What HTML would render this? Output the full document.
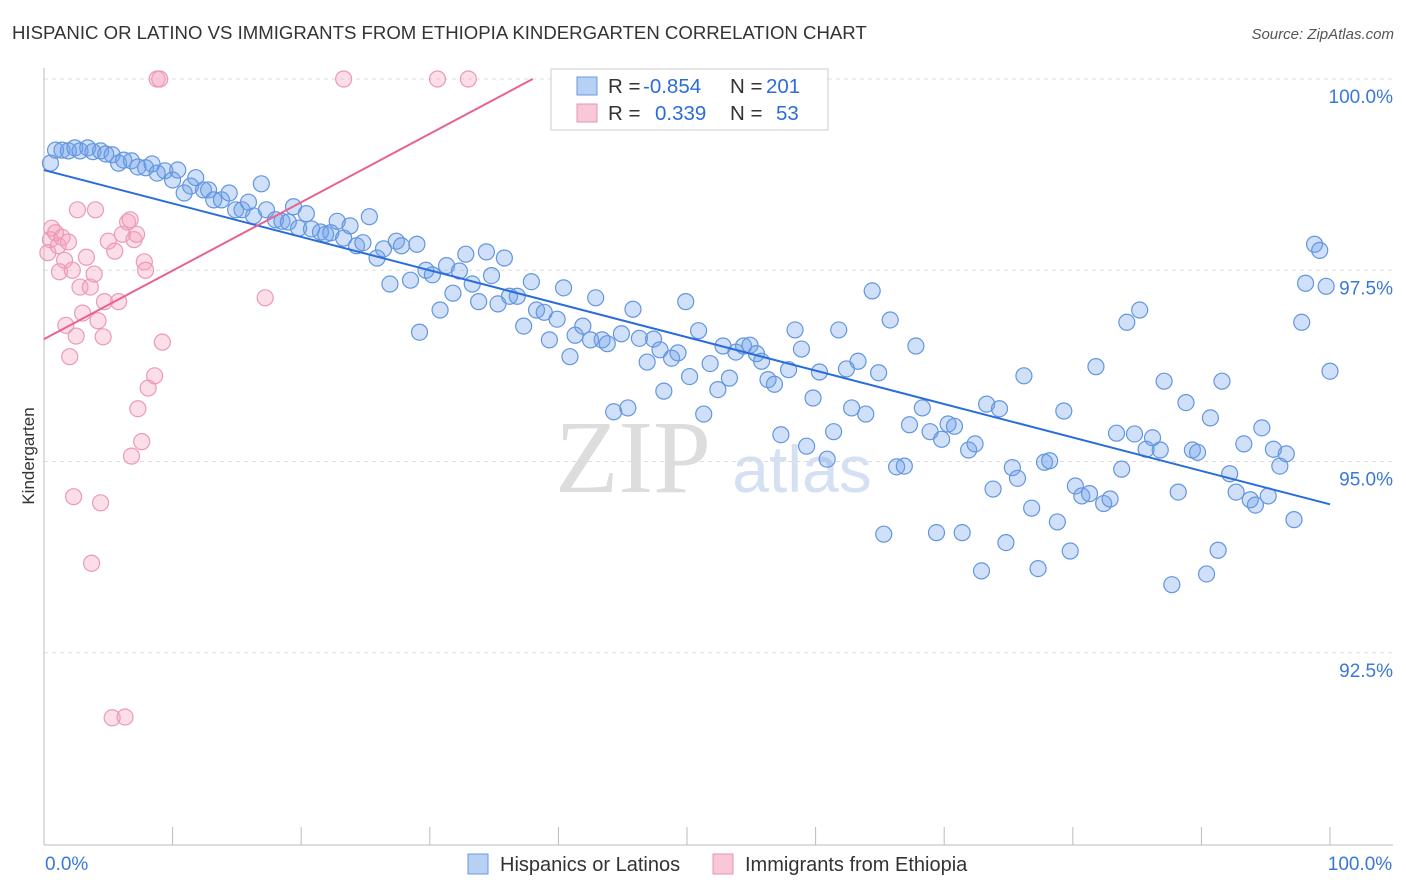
<!DOCTYPE html>
<html><head><meta charset="utf-8"><style>
body{margin:0;background:#fff;font-family:"Liberation Sans",sans-serif;}
svg{display:block}
</style></head><body>
<svg id="chart" width="1406" height="892">
<text x="12" y="39" font-size="18.6" fill="#333">HISPANIC OR LATINO VS IMMIGRANTS FROM ETHIOPIA KINDERGARTEN CORRELATION CHART</text>
<text x="1394" y="39" font-size="15" fill="#555" font-style="italic" text-anchor="end">Source: ZipAtlas.com</text>
<text x="34" y="456" font-size="17" fill="#333" text-anchor="middle" transform="rotate(-90 34 456)">Kindergarten</text>
<text x="633" y="492" font-size="104" fill="#ddd" font-family="Liberation Serif" text-anchor="middle">ZIP</text>
<text x="802" y="492" font-size="66" fill="#d5e0f2" text-anchor="middle">atlas</text>
<g id="grid"></g><g id="axes"></g><g id="pts"></g><g id="trend"></g>
<g>
<rect x="551" y="69" width="277" height="61" fill="#fff" stroke="#ccc"/>
<rect x="577" y="77" width="20" height="18" fill="#b8d0f5" stroke="#6a9ae0"/>
<rect x="577" y="104" width="20" height="18" fill="#f8c8d8" stroke="#e895b0"/>
<text font-size="20.5" fill="#333"><tspan x="608" y="93">R = </tspan><tspan x="643" y="93" fill="#2a6dd9">-0.854</tspan><tspan x="730" y="93">N = </tspan><tspan x="766" y="93" fill="#2a6dd9">201</tspan></text>
<text font-size="20.5" fill="#333"><tspan x="608" y="120">R = </tspan><tspan x="655" y="120" fill="#2a6dd9">0.339</tspan><tspan x="730" y="120">N = </tspan><tspan x="776" y="120" fill="#2a6dd9">53</tspan></text>
</g>
<g>
<rect x="468" y="854" width="20" height="20" fill="#b8d0f5" stroke="#6a9ae0"/>
<text x="500" y="871" font-size="20" fill="#333">Hispanics or Latinos</text>
<rect x="713" y="854" width="20" height="20" fill="#f8c8d8" stroke="#e895b0"/>
<text x="745" y="871" font-size="20" fill="#333">Immigrants from Ethiopia</text>
</g>
</svg>
<script>
const yTicks=[100,97.5,95,92.5];
const yTickLabels=["100.0%","97.5%","95.0%","92.5%"];
const xLabels=["0.0%","100.0%"];
const blueX=[0.9,0.5,1.4,1.9,2.4,2.8,3.4,3.8,4.4,4.8,5.3,5.8,6.2,6.8,7.3,7.9,8.4,8.8,9.4,10.0,10.4,10.9,11.4,11.8,12.4,12.8,13.2,13.8,14.4,14.9,15.4,15.9,16.3,16.9,17.3,18.0,18.5,19.0,19.4,19.8,20.4,20.8,21.5,21.9,22.3,22.8,23.3,23.8,24.3,24.8,25.3,25.9,26.4,26.9,27.4,27.8,28.5,29.0,29.2,29.7,30.2,30.8,31.3,31.8,32.3,32.8,33.3,33.8,34.4,34.8,35.3,35.8,36.2,36.8,37.3,37.9,38.3,38.9,39.3,39.9,40.4,40.9,41.3,41.9,42.5,42.9,43.4,43.8,44.3,44.9,45.4,45.8,46.3,46.9,47.4,47.9,48.2,48.8,49.3,49.9,50.2,50.9,51.3,51.8,52.4,52.8,53.3,53.8,54.4,54.9,55.4,55.8,56.3,56.8,57.3,57.9,58.4,58.9,59.3,59.8,60.3,60.9,61.4,61.8,62.4,62.8,63.3,63.9,64.4,64.9,65.3,65.8,66.3,66.9,67.3,67.8,68.3,68.9,69.4,69.8,70.3,70.8,71.4,71.9,72.4,72.9,73.3,73.8,74.3,74.8,75.3,75.7,76.2,76.8,77.3,77.8,78.2,78.8,79.3,79.8,80.2,80.7,81.3,81.8,82.4,82.9,83.4,83.8,84.2,84.8,85.2,85.7,86.2,86.8,87.1,87.7,88.2,88.8,89.3,89.7,90.4,90.7,91.3,91.6,92.2,92.7,93.3,93.8,94.2,94.7,95.2,95.6,96.1,96.6,97.2,97.8,98.1,98.8,99.2,99.7,100.0];
const blueY=[99.07,98.90,99.07,99.06,99.10,99.06,99.10,99.05,99.06,99.02,99.01,98.90,98.94,98.93,98.85,98.84,98.89,98.77,98.80,98.68,98.81,98.51,98.60,98.71,98.55,98.55,98.42,98.42,98.51,98.29,98.29,98.39,98.21,98.63,98.29,98.16,98.14,98.13,98.33,98.05,98.24,98.04,98.00,97.97,97.99,98.14,97.92,98.08,97.82,97.86,98.20,97.66,97.78,97.32,97.88,97.82,97.37,97.84,96.69,97.50,97.44,96.98,97.56,97.20,97.49,97.71,97.32,97.09,97.74,97.43,97.06,97.66,97.16,97.16,96.77,97.35,96.98,96.95,96.59,96.86,97.27,96.37,96.65,96.77,96.59,97.14,96.59,96.54,95.65,96.67,95.70,96.99,96.61,96.30,96.60,96.46,95.92,96.35,96.42,97.09,96.11,96.71,95.62,96.28,95.94,96.51,96.09,96.43,96.51,96.52,96.41,96.31,96.07,96.01,95.35,96.20,96.72,96.47,95.20,95.83,96.17,95.03,95.39,96.72,96.21,95.70,96.31,95.62,97.23,96.16,94.05,96.85,94.93,94.94,95.48,96.51,95.70,95.39,94.07,95.29,95.49,95.46,94.07,95.15,95.23,93.57,95.75,94.64,95.69,93.94,94.92,94.78,96.12,94.39,93.60,94.99,95.01,94.21,95.66,93.83,94.68,94.55,94.58,96.24,94.45,94.51,95.37,94.90,96.82,95.36,96.98,95.16,95.31,95.15,96.05,93.39,94.60,95.77,95.15,95.12,93.53,95.57,93.84,96.05,94.84,94.60,95.23,94.50,94.43,95.44,94.55,95.16,94.94,95.10,94.24,96.82,97.33,97.84,97.76,97.29,96.18];
const pinkX=[0.5,0.6,0.3,0.9,1.1,1.2,1.4,1.6,1.7,1.9,2.0,2.2,2.3,2.5,2.6,2.8,3.0,3.3,3.6,3.7,3.9,4.0,4.2,4.4,4.6,4.7,5.0,5.3,5.5,5.8,6.1,6.3,6.5,6.7,6.8,7.0,7.2,7.3,7.6,7.8,7.9,8.1,8.6,8.8,9.0,9.2,17.2,23.3,30.6,33.0];
const pinkY=[97.90,98.05,97.73,97.99,97.82,97.48,97.93,97.63,96.78,97.87,96.37,97.50,94.54,96.64,98.29,97.28,96.94,97.67,97.28,93.67,97.45,98.29,96.84,94.46,96.63,97.09,97.88,91.65,97.75,97.09,97.97,91.66,98.13,98.16,95.07,97.90,97.97,95.69,95.26,97.61,97.50,95.96,96.12,100,100,96.56,97.14,100,100,100];
const blueTrend=[98.81,94.44];
const pinkTrend=[96.6,100];
const pinkTrendEnd=38;

const NS="http://www.w3.org/2000/svg";
const X0=44,X1=1330,YT=79,PX=76.5;
const sx=v=>X0+(X1-X0)*v/100;
const sy=v=>YT+(100-v)*PX;
function mk(tag,attrs,parent){const e=document.createElementNS(NS,tag);for(const k in attrs)e.setAttribute(k,attrs[k]);parent.appendChild(e);return e;}
const grid=document.getElementById('grid'),axes=document.getElementById('axes'),pts=document.getElementById('pts'),trend=document.getElementById('trend');
yTicks.forEach((t,i)=>{
 const l=mk('line',{x1:X0,x2:1393,y1:sy(t),y2:sy(t),stroke:'#ddd','stroke-dasharray':'4 4'},grid);
 
 
 const tx=mk('text',{x:1393,y:sy(t)+24,'font-size':19,fill:'#3a78d8','text-anchor':'end'},axes);
 tx.textContent=yTickLabels[i];
 
 
});
const ax=mk('line',{x1:X0,x2:1393,y1:845,y2:845,stroke:'#bbb'},axes);


const ay=mk('line',{x1:X0,x2:X0,y1:68,y2:845,stroke:'#bbb'},axes);


for(let i=0;i<=10;i++){
 const t=mk('line',{x1:sx(i*10),x2:sx(i*10),y1:827,y2:845,stroke:'#bbb'},axes);
 
 
}
[[0,'start'],[100,'middle']].forEach((p,i)=>{
 const tx=mk('text',{x:i?1360:45,y:870,'font-size':19,fill:'#3a78d8','text-anchor':p[1]},axes);
 tx.textContent=xLabels[i];
 
 
});
blueX.forEach((x,i)=>{
 const c=mk('circle',{cx:sx(x),cy:sy(blueY[i]),r:8,fill:'rgba(110,160,235,0.33)',stroke:'#6396e0','stroke-width':1.2},pts);
 
 
});
pinkX.forEach((x,i)=>{
 const c=mk('circle',{cx:sx(x),cy:sy(pinkY[i]),r:8,fill:'rgba(245,160,190,0.35)',stroke:'#eb9ab5','stroke-width':1.2},pts);
 
 
});
const bl=mk('line',{x1:sx(0),y1:sy(blueTrend[0]),x2:sx(100),y2:sy(blueTrend[1]),stroke:'#2a6dd9','stroke-width':2},trend);


const pl=mk('line',{x1:sx(0),y1:sy(pinkTrend[0]),x2:sx(pinkTrendEnd),y2:sy(pinkTrend[1]),stroke:'#e8628f','stroke-width':2},trend);


</script>
</body></html>
